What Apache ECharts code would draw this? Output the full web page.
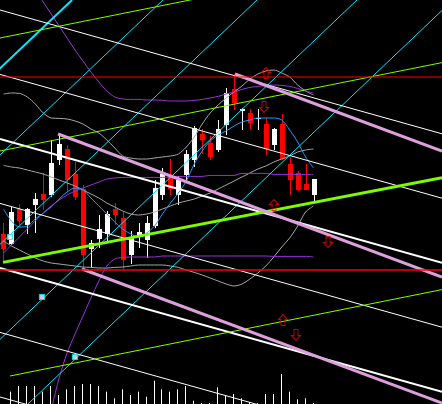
<!DOCTYPE html>
<html>
<head>
<meta charset="utf-8">
<script src="https://cdn.jsdelivr.net/npm/echarts@6/dist/echarts.min.js"></script>
<style>html,body{margin:0;padding:0;background:#000;}#c{width:442px;height:404px;}</style>
</head>
<body>
<div id="c"></div>
<script>
// ---- candles (index = position in arrays) ----
var opens  = [18.30,17.80,19.55,18.75,19.75,20.30,20.25,22.00,22.55,21.30,20.55,17.55,18.05,18.30,19.55,19.10,17.25,18.20,18.00,18.70,20.25,21.25,20.25,21.25,22.00,23.30,22.85,22.50,23.75,25.55,24.45,24.35,24.05,23.80,22.75,23.80,21.80,21.35,20.80,20.25];
var closes = [17.55,19.40,18.95,19.55,20.05,20.00,21.85,22.80,21.00,20.15,17.25,17.85,18.55,19.30,19.25,17.00,18.10,18.40,18.85,20.60,21.30,20.55,21.00,22.30,23.60,23.00,22.15,23.55,25.35,24.85,24.55,23.85,24.10,22.55,23.55,22.05,21.00,20.50,20.50,21.05];
var highs  = [18.85,19.65,19.80,19.60,20.35,21.35,23.00,23.20,22.75,21.90,20.75,18.00,19.25,19.45,19.85,19.40,18.45,18.85,19.20,21.00,21.60,22.05,21.20,22.50,23.70,23.55,23.20,24.00,25.60,26.30,24.60,24.55,24.55,24.10,23.60,24.30,22.15,21.45,21.80,21.05];
var lows   = [16.85,17.75,18.75,18.30,18.35,19.50,20.15,21.75,20.40,20.00,16.50,16.60,17.60,17.85,18.75,16.55,16.80,17.60,17.10,18.60,20.00,20.25,19.75,21.00,21.65,22.30,22.00,22.40,23.25,24.50,23.50,23.50,23.50,22.25,22.50,22.00,20.25,20.45,20.50,19.90];
var volumes = [0,12300,18000,18000,18000,12300,18000,9000,14700,18000,20000,20000,18000,12300,5700,14700,9000,12300,7300,23300,14700,12300,14700,18000,3300,1000,1000,16700,9000,10000,5700,2000,1000,10000,10000,30000,12300,4700,5700,1000];

// ---- indicator curves, one value per candle ----
var maBlue = [19.55,18.95,18.65,18.70,19.05,19.35,19.65,20.05,20.40,20.60,20.50,20.10,19.70,19.30,18.90,18.55,18.30,18.15,18.35,18.70,19.30,19.85,20.35,20.95,21.80,22.45,22.95,23.25,23.45,23.70,23.90,24.00,24.10,24.10,24.10,24.00,23.50,22.90,22.15,21.60];
var grayUpper = [25.30,25.35,25.33,25.15,24.80,24.35,24.10,24.08,24.05,23.95,23.80,23.55,23.35,23.00,22.60,22.20,22.10,22.05,22.05,22.10,22.15,22.20,22.30,22.65,23.15,23.80,24.35,24.75,25.10,25.40,25.70,26.05,26.30,26.45,26.50,26.35,26.15,25.75,25.45,25.25];
var grayMid = [21.73,21.65,21.60,21.50,21.40,21.30,21.15,21.00,20.85,20.70,20.50,20.30,20.10,19.85,19.65,19.45,19.30,19.25,19.30,19.40,19.55,19.70,19.85,19.95,20.05,20.20,20.35,20.55,20.75,20.95,21.15,21.35,21.55,21.70,21.90,22.05,22.20,22.40,22.50,22.55];
var grayLower = [17.95,17.70,17.50,17.30,17.10,16.95,16.85,16.80,16.75,16.70,16.65,16.63,16.60,16.60,16.63,16.65,16.70,16.75,16.75,16.75,16.75,16.70,16.63,16.50,16.38,16.25,16.10,15.95,15.80,15.70,15.80,16.05,16.35,16.70,17.15,17.65,18.10,18.70,19.40,19.70];
var purpleUpper = [null,null,null,null,30.50,29.90,29.30,28.70,28.10,27.50,26.95,26.40,25.90,25.45,25.15,25.05,25.03,25.03,25.00,25.00,24.98,24.95,24.95,24.95,24.98,25.03,25.10,25.18,25.30,25.40,25.53,25.63,25.68,25.73,25.75,25.73,25.68,25.58,25.45,25.35];
var purpleMid = [17.35,17.75,18.15,18.55,18.95,19.35,19.70,20.00,20.25,20.45,20.60,20.75,20.90,21.05,21.10,21.13,21.13,21.13,21.13,21.13,21.13,21.15,21.18,21.18,21.18,21.18,21.23,21.23,21.23,21.23,21.33,21.33,21.33,21.33,21.28,21.28,21.28,21.28,21.28,21.28];
var purpleLower = [null,null,null,null,null,null,9.50,11.10,12.35,13.30,14.20,15.10,15.95,16.70,17.05,17.13,17.15,17.15,17.15,17.15,17.20,17.20,17.20,17.20,17.20,17.20,17.20,17.20,17.20,17.20,17.20,17.20,17.20,17.20,17.18,17.18,17.18,17.18,17.18,17.15];

// ---- drawn trend lines: [startIndex, startPrice, endIndex, endPrice] ----
var whiteThin  = [[-0.44,29.50,55.16,23.31],[-0.44,26.28,55.16,20.09],[-0.44,19.83,55.16,13.64],[-0.44,13.38,55.16,7.19],[-0.44,10.15,55.16,3.96]];
var whiteThick = [[-0.44,23.05,55.16,16.86],[-0.44,16.60,55.16,10.41]];
var pinkLines  = [[6.86,23.30,55.16,16.15],[29.12,26.30,55.16,22.45],[9.87,16.55,55.16,9.85]];
var greenThin  = [[-0.44,28.10,55.16,32.52],[-0.44,22.45,55.16,26.87],[0.82,11.20,55.16,15.52]];
var greenThick = [[-0.06,16.88,55.16,21.11]];
var cyanThin   = [[20.06,30,-33.40,9.8],[31.89,30,-21.57,9.8],[44.47,30,-8.99,9.8],[56.54,30,3.08,9.8]];
var cyanThick  = [[8.62,30,-44.84,9.8]];
var redLevels  = [26.15,16.50];
var arrowsUp   = [[33.02,26.35],[34.03,19.75],[35.16,14.00]];
var arrowsDown = [[32.77,24.65],[40.82,17.90],[36.79,13.25]];
var markers    = [[0.82,18.15],[4.84,15.15],[8.99,12.15]];

var X_MIN = -0.44, X_MAX = 55.16;

var chart = echarts.init(document.getElementById('c'), null, {renderer:'canvas'});

var candleData = opens.map(function(o,i){ return [i, o, closes[i], lows[i], highs[i]]; });
var volData = volumes.map(function(v,i){ return [i, v]; });
function curve(arr){ return arr.map(function(v,i){ return [i, v]; }); }

var series = [];

series.push({
  type:'custom', z:2, silent:true, clip:true,
  data: volData, xAxisIndex:0, yAxisIndex:1,
  encode:{x:0, y:1},
  renderItem:function(params, api){
    var p0 = api.coord([api.value(0), 0]);
    var p1 = api.coord([api.value(0), api.value(1)]);
    var x = Math.round(p0[0]) - 0.5;
    return {type:'line', shape:{x1:x, y1:p0[1], x2:x, y2:p1[1]}, style:{stroke:'#ffffff', lineWidth:1}};
  }
});

series.push({
  type:'custom', z:3, silent:true, clip:true,
  data: candleData,
  encode:{x:0, y:[1,2,3,4]},
  renderItem:function(params, api){
    var i = api.value(0), o = api.value(1), c = api.value(2), l = api.value(3), h = api.value(4);
    var pO = api.coord([i,o]), pC = api.coord([i,c]), pL = api.coord([i,l]), pH = api.coord([i,h]);
    var col = c >= o ? '#ffffff' : '#ff0000';
    var x = Math.round(pO[0]);
    var top = Math.round(Math.min(pO[1], pC[1])), bot = Math.round(Math.max(pO[1], pC[1]));
    return {type:'group', children:[
      {type:'line', shape:{x1:x+0.5, y1:Math.round(pH[1]), x2:x+0.5, y2:Math.round(pL[1])}, style:{stroke:col, lineWidth:1}},
      {type:'rect', shape:{x:x-2, y:top, width:5, height:Math.max(1, bot-top)}, style:{fill:col}}
    ]};
  }
});

function addCurve(arr, color){
  series.push({type:'line', z:4, silent:true, data:curve(arr), symbol:'none', smooth:0.3, connectNulls:false,
    lineStyle:{color:color, width:1}, clip:true});
}
addCurve(grayUpper, '#a8a8a8');
addCurve(grayMid, '#a8a8a8');
addCurve(grayLower, '#a8a8a8');
addCurve(purpleUpper, '#9a34d6');
addCurve(purpleMid, '#9a34d6');
addCurve(purpleLower, '#9a34d6');
addCurve(maBlue, '#1e9cff');

function addLines(list, color, width){
  list.forEach(function(s){
    series.push({type:'line', z:5, silent:true, symbol:'none', clip:true,
      data:[[s[0], s[1]],[s[2], s[3]]], lineStyle:{color:color, width:width}});
  });
}
addLines(cyanThin, '#00e8ff', 1);
addLines(cyanThick, '#00e8ff', 2);
addLines(whiteThin, '#ffffff', 1);
addLines(whiteThick, '#ffffff', 2);
addLines(greenThin, '#7cfc00', 1);
addLines(greenThick, '#7cfc00', 3);
addLines(pinkLines, '#dda0dd', 3);
redLevels.forEach(function(p, k){
  series.push({type:'line', z:5, silent:true, symbol:'none', clip:true,
    data:[[X_MIN, p],[X_MAX, p]], lineStyle:{color:'#ff0000', width: k === 0 ? 1 : 1.5}});
});

series.push({type:'scatter', z:6, silent:true, data:markers, symbol:'rect', symbolSize:5,
  itemStyle:{color:'#ffffff', borderColor:'#00e8ff', borderWidth:1.2}});
series.push({type:'scatter', z:6, silent:true, data:arrowsUp,
  symbol:'path://M4.5,0 L9,5 L6.5,5 L6.5,11 L2.5,11 L2.5,5 L0,5 Z', symbolSize:[9,11],
  itemStyle:{color:'rgba(0,0,0,0)', borderColor:'#ff0000', borderWidth:1}});
series.push({type:'scatter', z:6, silent:true, data:arrowsDown,
  symbol:'path://M2.5,0 L6.5,0 L6.5,6 L9,6 L4.5,11 L0,6 L2.5,6 Z', symbolSize:[9,11],
  itemStyle:{color:'rgba(0,0,0,0)', borderColor:'#ff0000', borderWidth:1}});

chart.setOption({
  backgroundColor:'#000000',
  animation:false,
  grid:{left:0, right:0, top:0, bottom:0, containLabel:false},
  xAxis:{type:'value', min:X_MIN, max:X_MAX, show:false},
  yAxis:[
    {type:'value', min:9.8, max:30, show:false},
    {type:'value', min:0, max:404000, show:false}
  ],
  series:series
});
</script>
</body>
</html>
